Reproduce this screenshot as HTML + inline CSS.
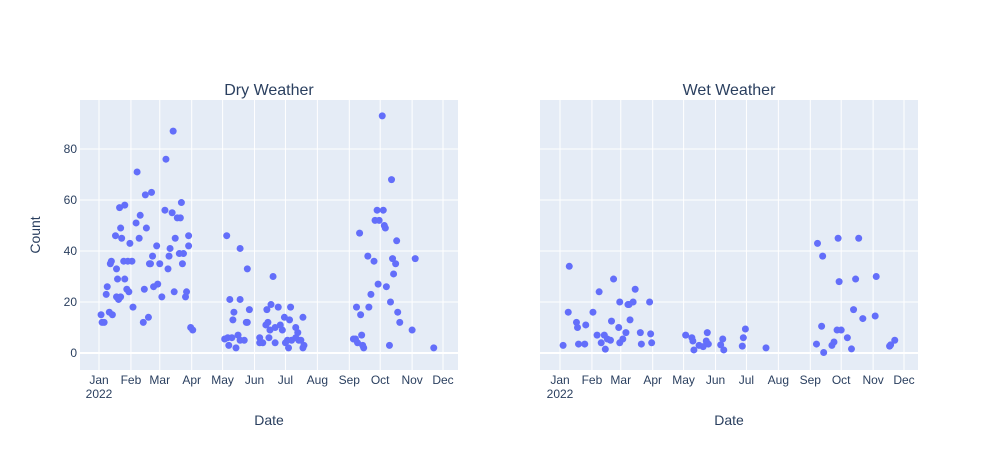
<!DOCTYPE html>
<html><head><meta charset="utf-8"><style>
body{margin:0;background:#fff;}
svg{display:block;font-family:"Liberation Sans",Arial,sans-serif;}
</style></head><body>
<svg id="chart" width="998" height="450"></svg>
<script>
const months=["Jan","Feb","Mar","Apr","May","Jun","Jul","Aug","Sep","Oct","Nov","Dec"];
const monthDays=[0,31,59,90,120,151,181,212,243,273,304,334];
const yTicks=[0,20,40,60,80];
const dryDays=[2,3,5,7,8,10,11,12,13,16,17,17,18,19,20,21,21,22,24,25,25,27,28,29,30,32,33,36,37,39,40,43,44,45,46,48,49,50,51,52,53,56,57,59,61,64,65,67,68,69,71,72,73,74,76,78,79,80,81,82,84,85,87,87,89,91,
124,137,144,169,127,137,131,146,130,143,144,122,125,129,126,135,133,137,141,163,167,174,186,198,162,164,166,171,176,178,180,185,191,193,156,165,156,159,171,181,183,184,187,191,194,196,199,198,
275,284,270,276,268,272,277,278,253,289,261,267,285,307,288,286,271,279,264,283,250,262,254,290,292,304,255,247,249,251,256,257,282,325];
const dryCounts=[15,12,12,23,26,16,35,36,15,46,33,22,29,21,57,22,49,45,36,58,29,25,36,24,43,36,18,51,71,45,54,12,25,62,49,14,35,35,63,38,26,42,27,35,22,56,76,33,38,41,55,87,24,45,53,39,53,59,35,39,22,24,46,42,10,9,
46,41,33,30,21,21,16,17,13,12,12,5.5,6,6,3,7,2,5,5,17,19,18,18,14,11,12,9,10,11,9,14,13,10,8,6,6,4,4,4,4,5,2,5,6,5,5,3,2,
93,68,56,56,52,52,50,49,47,44,38,36,37,37,35,31,27,26,23,20,18,18,15,16,12,9,7,5.5,5.5,4,3,2,3,2];
const wetDays=[3,8,9,16,17,18,24,25,32,36,38,40,43,44,46,49,50,52,57,58,58,61,64,66,67,68,71,73,78,79,87,88,89,
122,128,129,130,135,139,142,143,144,156,158,159,177,178,180,200,
249,250,254,255,256,264,266,269,270,271,273,279,283,285,287,290,294,306,307,320,321,325];
const wetCounts=[3,16,34,12,10,3.5,3.5,11,16,7,24,4,7,1.5,5.5,5,12.5,29,10,20,4,5.5,8,19,19,13,20,25,8,3.5,20,7.5,4,
7,6,4.7,1.2,3,2.5,4.7,8,3.5,3.2,5.5,1.2,2.7,6,9.4,2,
3.5,43,10.5,38,0.2,3,4.3,9,45,28,9,6,1.6,17,29,45,13.5,14.5,30,2.7,3.2,5];
const NS="http://www.w3.org/2000/svg";
const svg=document.getElementById('chart');
function mk(tag,attrs,parent){const e=document.createElementNS(NS,tag);for(const k in attrs)e.setAttribute(k,attrs[k]);(parent||svg).appendChild(e);return e;}
function yScale(v){return 353-v*2.55;}
const panels=[{x0:80,x1:458,jan:99,title:"Dry Weather",days:dryDays,counts:dryCounts,name:"dry"},
{x0:540,x1:918,jan:560,title:"Wet Weather",days:wetDays,counts:wetCounts,name:"wet"}];
panels.forEach((p,pi)=>{
  const g=mk('g',{});
  
  
  const xScale=d=>p.jan+d*1.03;
  const bg=mk('rect',{x:p.x0,y:100,width:p.x1-p.x0,height:270,fill:'#e5ecf6'},g);
  
  
  monthDays.forEach((md,i)=>{
    const x=xScale(md);
    const l=mk('line',{x1:x,x2:x,y1:100,y2:370,stroke:'#fff','stroke-width':1},g);
    
    
    const t=mk('text',{x:x,y:384,'text-anchor':'middle','font-size':12,fill:'#2a3f5f'},g);
    t.textContent=months[i];
    
    
  });
  const yr=mk('text',{x:xScale(0),y:398,'text-anchor':'middle','font-size':12,fill:'#2a3f5f'},g);
  yr.textContent="2022";
  
  
  yTicks.forEach(v=>{
    const y=yScale(v);
    const l=mk('line',{x1:p.x0,x2:p.x1,y1:y,y2:y,stroke:'#fff','stroke-width':v===0?2:1},g);
    
    
    if(pi===0){
      const t=mk('text',{x:p.x0-3,y:y+4,'text-anchor':'end','font-size':12,fill:'#2a3f5f'},g);
      t.textContent=v;
      
      
    }
  });
  p.days.forEach((d,i)=>{
    const c=mk('circle',{cx:xScale(d),cy:yScale(p.counts[i]),r:3.5,fill:'#636efa'},g);
    
    
  });
  const tt=mk('text',{x:(p.x0+p.x1)/2,y:95,'text-anchor':'middle','font-size':16,fill:'#2a3f5f'},g);
  tt.textContent=p.title;
  
  
  const xt=mk('text',{x:(p.x0+p.x1)/2,y:425,'text-anchor':'middle','font-size':14,fill:'#2a3f5f'},g);
  xt.textContent="Date";
  
  
});
const yt=mk('text',{x:0,y:0,'text-anchor':'middle','font-size':14,fill:'#2a3f5f',transform:'translate(40,235) rotate(-90)'});
yt.textContent="Count";


</script>
</body></html>
